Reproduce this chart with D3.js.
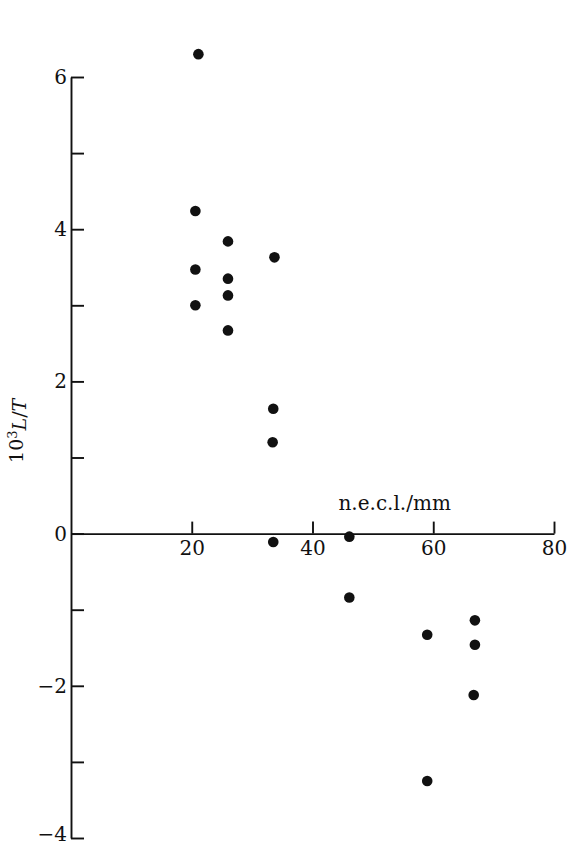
<!DOCTYPE html>
<html lang="en">
<head>
    <meta charset="UTF-8">
    <title>10^3 L/T vs n.e.c.l.</title>
    <script src="https://cdn.jsdelivr.net/npm/d3@7"></script>
    <style>
        body { margin: 0; background: #fff; }
        svg text { font-family: "DejaVu Serif", "Liberation Serif", serif; fill: #111; }
    </style>
</head>
<body>
<div id="chart"></div>
<script>
    // values
    const necl = [21.1, 20.6, 20.6, 20.6, 26.0, 26.0, 26.0, 26.0, 33.7, 33.5, 33.4, 33.5,
                  46.1, 46.1, 59.0, 59.0, 66.9, 66.9, 66.7];
    const lt = [6.3, 4.24, 3.47, 3.0, 3.84, 3.35, 3.13, 2.67, 3.63, 1.64, 1.2, -0.11,
                -0.04, -0.84, -1.33, -3.25, -1.14, -1.46, -2.12];
    const xTicks = [20, 40, 60, 80];
    const yTicks = [-4, -3, -2, -1, 0, 1, 2, 3, 4, 5, 6];

    const width = 569, height = 848;

    const svg = d3.select("#chart").append("svg")
        .attr("width", width)
        .attr("height", height);

    const x = d3.scaleLinear().domain([0, 80]).range([71, 554]);
    const y = d3.scaleLinear().domain([-4, 6]).range([838, 77]);

    // y axis, ticks pointing inwards, labels only on even values
    const yAxis = svg.append("g")
        .attr("transform", `translate(${x(0)},0)`)
        .call(d3.axisLeft(y)
            .tickValues(yTicks)
            .tickSizeInner(-13)
            .tickSizeOuter(0)
            .tickPadding(4)
            .tickFormat(d => d % 2 === 0 ? (d < 0 ? "\u2212" + Math.abs(d) : d) : ""));

    // x axis through zero
    const xAxis = svg.append("g")
        .attr("transform", `translate(0,${y(0)})`)
        .call(d3.axisBottom(x)
            .tickValues(xTicks)
            .tickSizeInner(-12)
            .tickSizeOuter(0)
            .tickPadding(7));

    svg.selectAll(".domain, .tick line")
        .attr("stroke", "#111")
        .attr("stroke-width", 1.9);
    svg.selectAll(".tick text")
        .style("font-size", "20px");
    yAxis.attr("font-family", null);
    xAxis.attr("font-family", null);

    // bottom label sits at the page edge, lift it a little
    yAxis.selectAll(".tick text")
        .filter(d => d === -4)
        .attr("dy", "0.1em");

    // axis titles
    svg.append("text")
        .attr("x", x(44.3))
        .attr("y", y(0) - 24)
        .style("font-size", "20px")
        .text("n.e.c.l./mm");

    const ylab = svg.append("text")
        .attr("transform", `translate(23,${y(1.35)}) rotate(-90)`)
        .attr("text-anchor", "middle")
        .style("font-size", "19px");
    ylab.append("tspan").text("10");
    ylab.append("tspan").attr("dy", "-0.45em").style("font-size", "13px").text("3");
    ylab.append("tspan").attr("dy", "0.45em").style("font-style", "italic").text("L");
    ylab.append("tspan").text("/");
    ylab.append("tspan").style("font-style", "italic").text("T");

    // points
    svg.append("g")
        .selectAll("circle")
        .data(necl.map((d, i) => [d, lt[i]]))
        .join("circle")
        .attr("cx", d => x(d[0]))
        .attr("cy", d => y(d[1]))
        .attr("r", 5.3)
        .attr("fill", "#111");
</script>
</body>
</html>
